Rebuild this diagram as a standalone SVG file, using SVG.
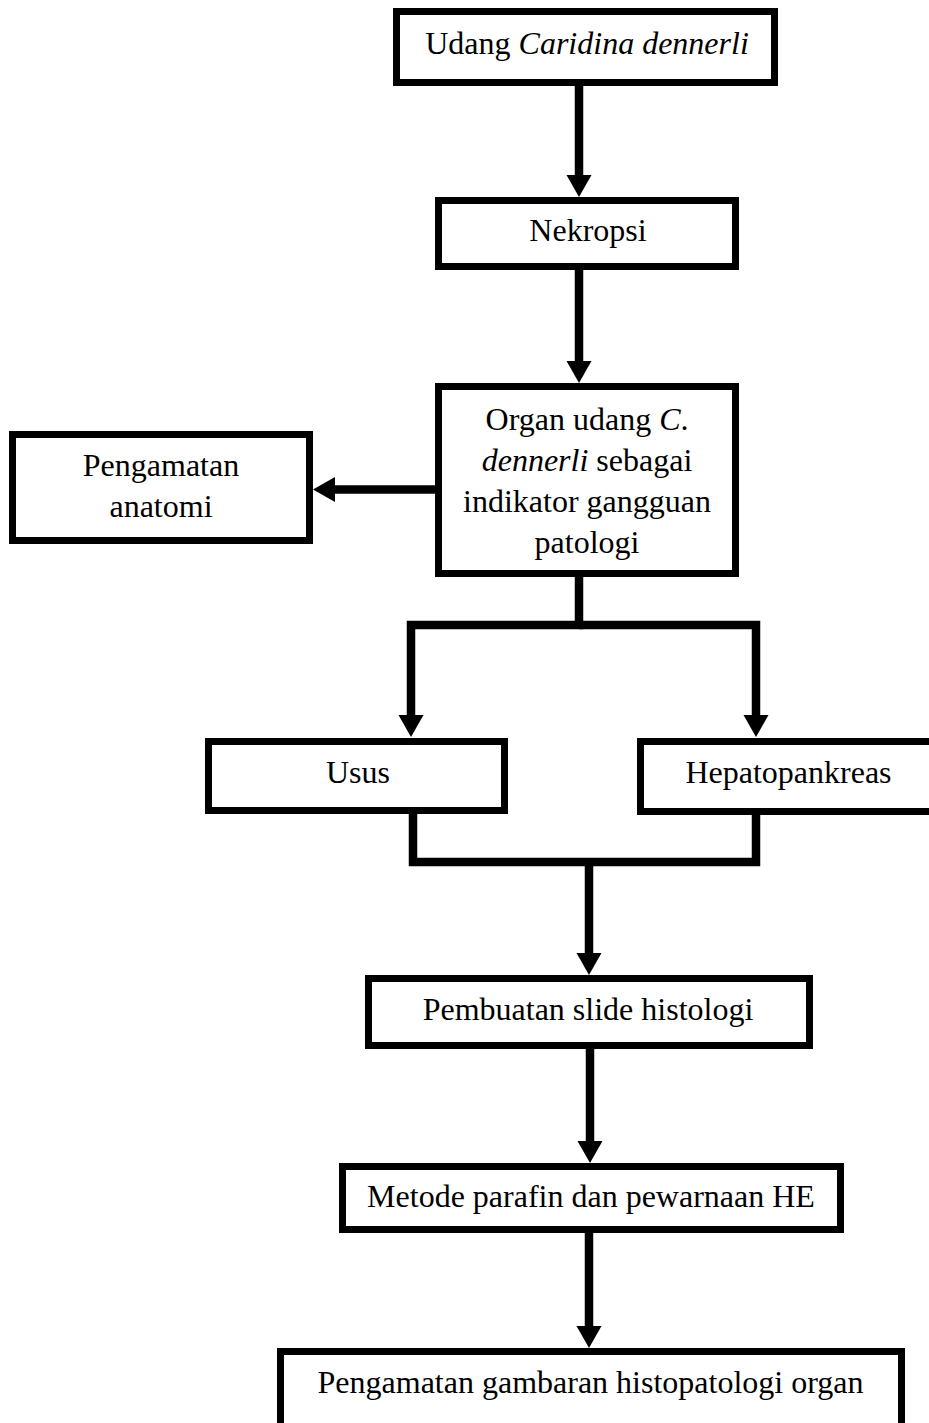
<svg xmlns="http://www.w3.org/2000/svg" width="929" height="1423" viewBox="0 0 929 1423">
<style>
.box{fill:#fff;stroke:#000;stroke-width:7}
.t{font-family:"Liberation Serif","Times New Roman",serif;font-size:32px;fill:#000;text-anchor:middle}
.i{font-style:italic}
.c{fill:none;stroke:#000;stroke-width:8.5;stroke-linejoin:miter}
</style>
<defs>
<marker id="ah" markerUnits="userSpaceOnUse" markerWidth="24" markerHeight="26" refX="0" refY="12.5" orient="auto" viewBox="0 0 24 25">
<path d="M0,0 L22,12.5 L0,25 Z" fill="#000"/>
</marker>
</defs>
<rect width="929" height="1423" fill="#fff"/>
<g id="connectors">
<path class="c" d="M579,86 V175" marker-end="url(#ah)"/>
<path class="c" d="M579,270 V361" marker-end="url(#ah)"/>
<path class="c" d="M435,489.5 H335" marker-end="url(#ah)"/>
<path class="c" d="M579,577 V625 H411 V715" marker-end="url(#ah)"/>
<path class="c" d="M579,625 H756 V715" marker-end="url(#ah)"/>
<path class="c" d="M413,814 V862 H756 V815"/>
<path class="c" d="M589,862 V953" marker-end="url(#ah)"/>
<path class="c" d="M590,1049 V1141" marker-end="url(#ah)"/>
<path class="c" d="M589,1233 V1326" marker-end="url(#ah)"/>
</g>
<g id="n1">
<rect class="box" x="396.5" y="11.5" width="378" height="71"/>
<text class="t" x="587" y="54">Udang <tspan class="i">Caridina dennerli</tspan></text>
</g>
<g id="n2">
<rect class="box" x="438.5" y="200.5" width="297" height="66"/>
<text class="t" x="588" y="241">Nekropsi</text>
</g>
<g id="n3">
<rect class="box" x="438.5" y="386.5" width="297" height="187"/>
<text class="t" x="587" y="430">Organ udang <tspan class="i">C</tspan>.</text>
<text class="t" x="587" y="471"><tspan class="i">dennerli</tspan> sebagai</text>
<text class="t" x="587" y="512">indikator gangguan</text>
<text class="t" x="587" y="553">patologi</text>
</g>
<g id="n4">
<rect class="box" x="12.5" y="434.5" width="297" height="106"/>
<text class="t" x="161" y="476">Pengamatan</text>
<text class="t" x="161" y="517">anatomi</text>
</g>
<g id="n5">
<rect class="box" x="208.5" y="741.5" width="296" height="69"/>
<text class="t" x="358" y="783">Usus</text>
</g>
<g id="n6">
<rect class="box" x="640.5" y="741.5" width="300" height="70"/>
<text class="t" x="788.5" y="783">Hepatopankreas</text>
</g>
<g id="n7">
<rect class="box" x="368.5" y="978.5" width="441" height="67"/>
<text class="t" x="588" y="1020">Pembuatan slide histologi</text>
</g>
<g id="n8">
<rect class="box" x="342.5" y="1166.5" width="498" height="63"/>
<text class="t" x="591" y="1207">Metode parafin dan pewarnaan HE</text>
</g>
<g id="n9">
<rect class="box" x="280.5" y="1351.5" width="621" height="100"/>
<text class="t" x="590.5" y="1393">Pengamatan gambaran histopatologi organ</text>
</g>
</svg>
